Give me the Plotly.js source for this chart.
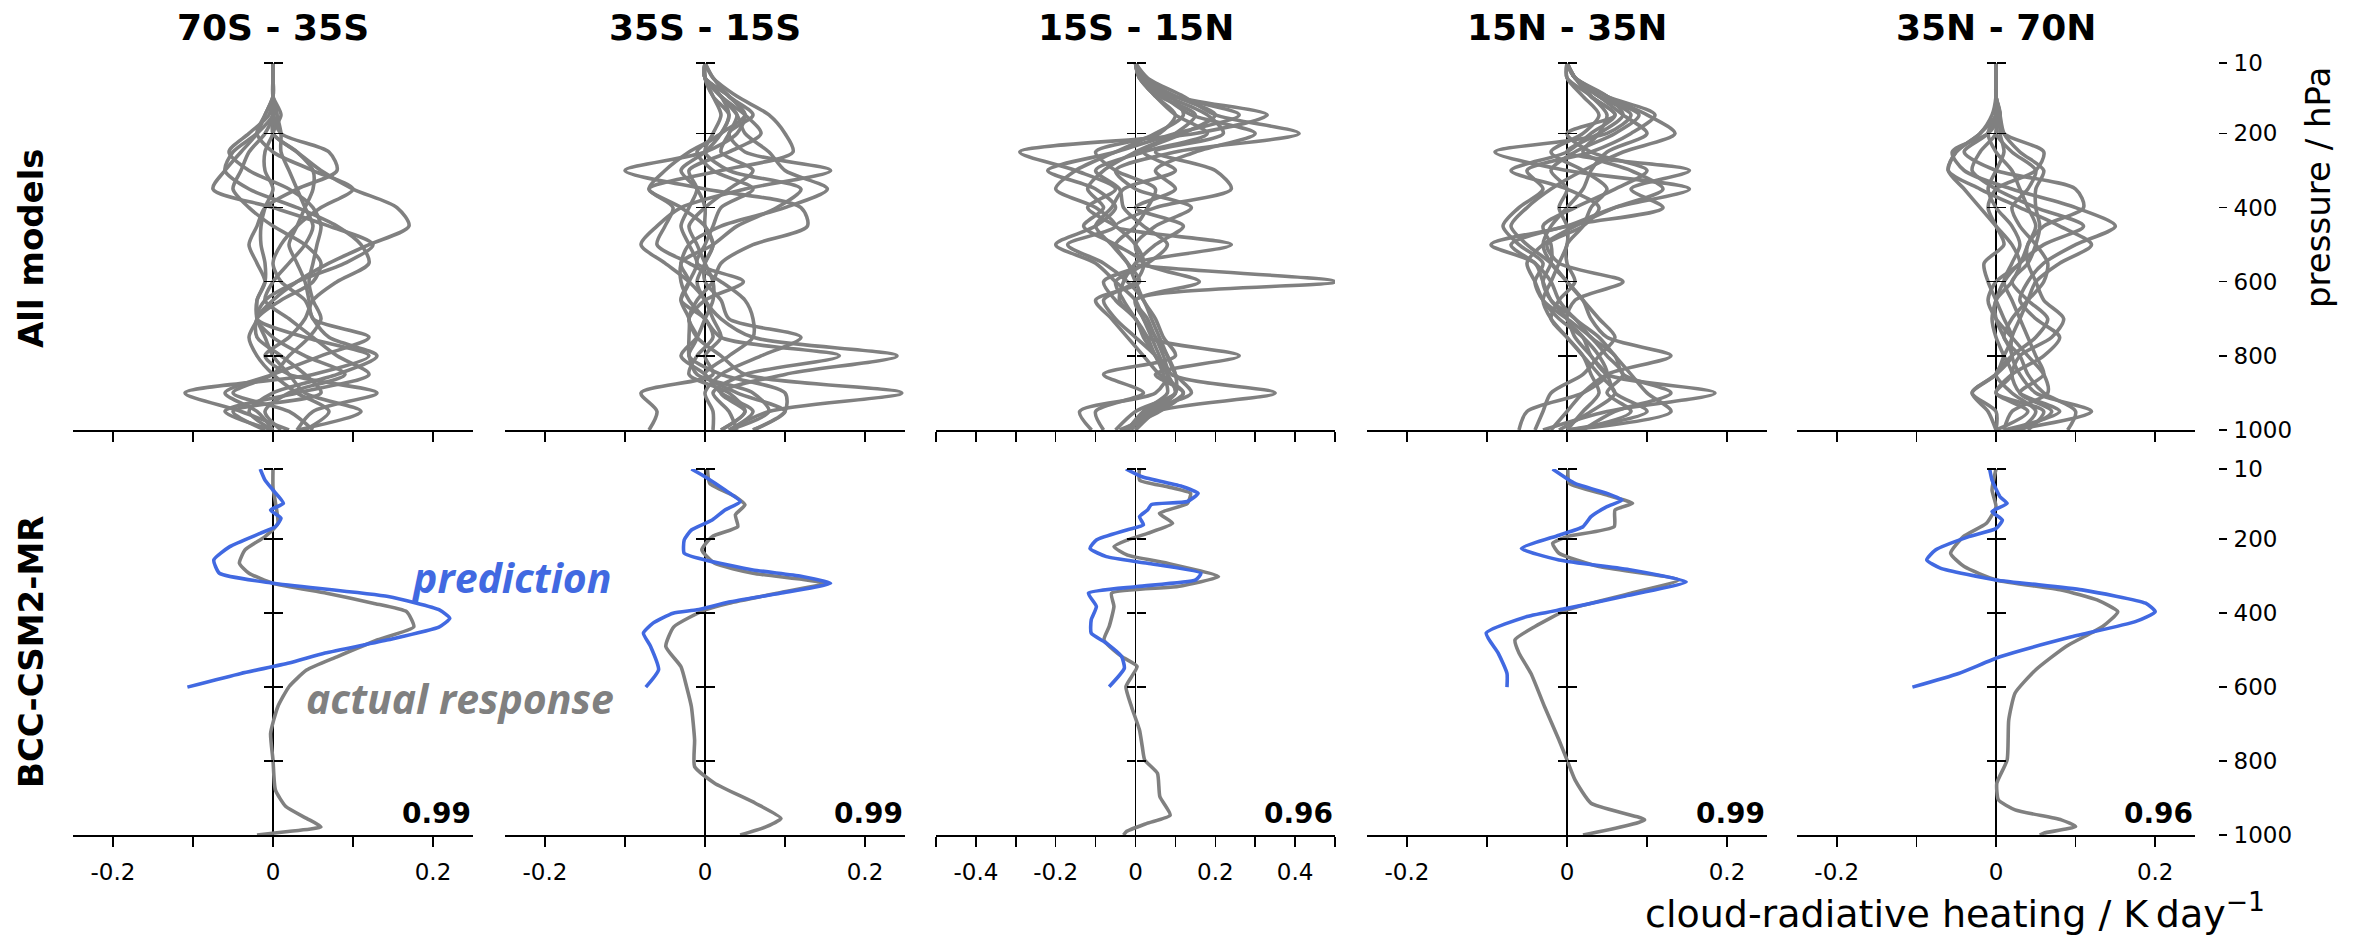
<!DOCTYPE html>
<html><head><meta charset="utf-8">
<script src="https://cdn.plot.ly/plotly-3.0.1.min.js"></script>
<style>html,body{margin:0;padding:0;background:#fff}#chart{width:2364px;height:936px}</style>
</head><body><div id="chart"></div>
<script>
// ---------------- data ----------------
const regions = ['70S - 35S', '35S - 15S', '15S - 15N', '15N - 35N', '35N - 70N'];
const rowLabels = ['All models', 'BCC-CSM2-MR'];
const correlations = ['0.99', '0.99', '0.96', '0.99', '0.96'];
const pressureTicks = [10, 200, 400, 600, 800, 1000];
const xTickVals = [-0.2, -0.1, 0, 0.1, 0.2];
const xTickText = ['-0.2', '', '0', '', '0.2'];
const xTickValsWide = [-0.5, -0.4, -0.3, -0.2, -0.1, 0, 0.1, 0.2, 0.3, 0.4, 0.5];
const xTickTextWide = ['', '-0.4', '', '-0.2', '', '0', '', '0.2', '', '0.4', ''];

// pressure levels (hPa) of the all-model profiles
const pressureLevels = [10,50,100,150,200,250,300,350,400,450,500,550,600,650,700,750,800,850,900,950,1000];

// all-model profiles, cloud-radiative heating response (K/day)
const allModels_70S35S = [
  [0,0,0,0,0,0.03,0.06,0.1,0.155,0.17,0.12,0.07,0.03,0,-0.02,0,0.04,0.09,0.02,-0.01,0.01],
  [0,0,0,-0.01,-0.02,-0.04,-0.06,-0.075,0,0.07,0.125,0.09,0.03,-0.01,-0.02,0.04,0.12,0.05,-0.11,-0.04,0.02],
  [0,0,0,0,0.01,0.07,0.08,0.03,-0.01,-0.02,-0.03,-0.02,-0.01,-0.02,-0.02,-0.03,-0.02,0,0.03,0.07,0.04],
  [0,0,0,-0.01,-0.02,0,0.05,0.1,0.06,0.03,0.01,0,0.01,0.04,0.05,0.07,0.13,0.08,0,-0.03,0],
  [0,0,0,0,-0.02,-0.05,-0.06,-0.03,0.03,0.08,0.11,0.12,0.08,0.05,0.04,0.02,-0.01,0.02,0.13,0.05,0.03],
  [0,0,0,-0.005,-0.03,-0.055,-0.03,0.02,0.05,0.06,0.055,0.05,0.045,0.05,0.06,0.045,0.02,0,-0.05,0.02,0.05],
  [0,0,0,0.005,0,-0.01,-0.01,0,-0.01,-0.015,-0.015,-0.01,-0.01,-0.02,-0.02,-0.01,0,0.02,0.04,0.11,0.03],
  [0,0,0,0.01,0,0.03,0.05,0.05,0.04,0.03,0.02,0.03,0.04,0.045,0.05,0.12,0.06,0,-0.06,-0.02,0],
  [0,0,0,0,-0.01,-0.03,-0.04,-0.05,-0.03,0,0.04,0.06,0.05,0.01,-0.02,-0.02,0.01,0.04,0.06,-0.05,-0.01],
  [0,0,0,0.005,0.01,0.01,0.02,0.03,0.04,0.05,0.04,0.02,0,-0.01,0.02,0.05,0.08,0.12,0.03,-0.06,0]
];
const allModels_35S15S = [
  [0,0.01,0.04,0.08,0.1,0.11,0.02,-0.07,-0.03,0,0.01,0,-0.01,0,0.02,0.06,0.24,0.1,0.02,0.05,0.02],
  [0,0,0.03,0.05,0.04,0,-0.1,0,0.12,0.128,0.06,0.02,0.01,-0.01,-0.02,-0.01,0.02,0.05,0.246,0.08,0.03],
  [0,0.01,0.03,0.06,0.03,0.05,0.157,0.05,-0.03,-0.06,-0.08,-0.05,-0.02,0,0.01,0.02,0,0.01,-0.08,-0.06,-0.07],
  [0,0,0.02,0.04,0.05,0.08,0.1,0.153,0.1,0.02,-0.02,-0.03,-0.03,-0.02,0,0.02,0.168,0.05,0.01,0.03,0.04],
  [0,0,0.02,0.03,0.02,-0.02,-0.05,-0.07,-0.04,-0.05,-0.06,-0.02,0.02,0.05,0.06,0.06,0.03,0,0.04,0.1,0.06],
  [0,0,0.03,0.05,0.02,-0.01,0.01,0.06,0.02,0.01,0,-0.01,0.048,0,-0.02,-0.01,-0.02,0.02,0.1,0.1,0.06],
  [0,0,0.01,0.02,0.01,0,0.03,0.12,0.09,0.04,0.01,-0.03,-0.02,-0.03,-0.02,-0.02,-0.02,-0.01,0.06,0.08,0.03],
  [0,0,0.02,0.05,0.07,0.03,-0.02,-0.01,-0.02,-0.03,-0.02,-0.01,-0.02,-0.03,0,0.01,-0.01,-0.02,0.03,0.05,0.02],
  [0,0,0.01,0.03,0.02,0,-0.03,-0.01,0,0,0.01,0,0,0.02,0.03,0.12,0.07,0.02,0,0.01,0.01],
  [0,0,0.02,0.04,0.03,0.02,0.06,0.03,0,-0.02,-0.01,0,0.01,0.01,0,-0.01,-0.03,0,0.02,0.06,0.03]
];
const allModels_15S15N = [
  [0,0.02,0.1,0.26,0.1,-0.05,-0.22,-0.1,-0.05,-0.1,-0.2,-0.1,-0.05,0,0.02,0.05,0.07,0.09,0.35,0.05,-0.02],
  [0,0.03,0.12,0.2,0.41,0.1,-0.05,0,0.14,0.05,0,0.02,0.16,0,0.03,0.05,0.08,0.1,0.1,0,-0.05],
  [0,0.02,0.1,0.33,0.15,-0.29,-0.15,-0.05,-0.12,-0.05,0,0.02,-0.05,-0.03,0,0.03,0.26,0.05,0.12,0.05,0],
  [0,0.01,0.08,0.18,0.22,0.05,0.2,0.24,0.05,-0.05,0.24,0,0.5,0,0.02,0.04,0.06,0.08,0.1,0.02,-0.02],
  [0,0.01,0.06,0.15,0.1,0,-0.08,-0.12,-0.08,-0.13,-0.05,0.02,0,-0.08,-0.05,0,0.05,0.08,0.05,-0.14,-0.11],
  [0,0.02,0.09,0.12,0.05,-0.05,-0.15,-0.2,-0.1,-0.05,-0.17,-0.08,-0.02,0.02,0.04,0.06,0.08,0.1,0.14,0.03,0],
  [0,0.01,0.07,0.14,0.3,0.15,0.05,0.1,0,0.12,0.05,0,-0.03,-0.04,0,0.03,0.05,0.08,0.1,0.04,-0.03],
  [0,0.02,0.1,0.2,0.12,0.02,0.1,-0.03,-0.06,-0.1,-0.06,-0.02,0.01,-0.1,-0.06,-0.02,0.02,0.06,0.12,0.06,-0.04],
  [0,0.01,0.05,0.1,0.06,-0.1,-0.05,0.05,0.03,0,-0.05,-0.02,0,0.02,0.05,0.07,0.1,-0.08,0.02,-0.1,-0.08],
  [0,0.01,0.05,0.1,0.18,0.02,-0.1,-0.04,-0.03,0.02,0.08,0.03,-0.08,-0.05,0,0.02,0.05,0.07,0.08,0.02,-0.01]
];
const allModels_15N35N = [
  [0,0.01,0.05,0.1,0.135,0.07,0.02,-0.02,-0.05,-0.07,-0.05,-0.02,0,0.02,0.03,0.05,0.13,0.05,0.02,0,-0.02],
  [0,0.01,0.04,0.08,0.05,-0.09,0,0.153,0.06,0,-0.095,-0.04,-0.03,-0.02,0,0.01,0.03,0.05,0.185,0.05,-0.03],
  [0,0.01,0.05,0.07,0.04,0,0.153,0.08,0.12,0,-0.07,-0.04,-0.02,-0.01,0.01,0.04,0.06,0.08,0.1,0.13,0],
  [0,0.01,0.03,0.06,0.03,0,-0.07,0,0.04,0.02,-0.025,-0.01,0.07,0.01,0,0.02,0.03,0.05,0.06,0.1,0],
  [0,0,0.03,0.05,0.04,0.02,0.08,0.12,0.06,0.01,-0.03,-0.05,-0.04,-0.03,-0.01,0.02,0.04,0.05,0.02,-0.05,-0.06],
  [0,0.01,0.04,0.09,0.06,0.01,-0.02,0,-0.01,0,0,-0.01,-0.02,-0.03,-0.02,0,0.02,0.04,0.06,0.03,-0.01],
  [0,0.01,0.05,0.11,0.08,0.03,-0.05,-0.03,-0.06,-0.08,-0.06,-0.03,-0.04,-0.03,0,0.03,0.05,0.07,0.05,0.08,0.01],
  [0,0,0.02,0.04,0.02,-0.02,0.02,0.05,0.03,0.02,0,0,0.01,-0.01,-0.02,0,0.02,0.03,0.04,0.02,0],
  [0,0.01,0.04,0.07,0.1,0.05,0.03,0.02,0,-0.02,-0.03,-0.02,0,0.02,0.04,0.06,0.04,0.02,-0.02,-0.03,-0.04],
  [0,0.01,0.03,0.06,0,0.03,0.1,0.06,0.01,-0.03,-0.02,-0.02,-0.03,-0.02,0.01,0.03,0.06,0.07,0.13,0.06,0.02]
];
const allModels_35N70N = [
  [0,0,0,0,-0.02,-0.05,-0.06,-0.02,0.03,0.08,0.12,0.08,0.05,0.04,0.03,0.02,0.02,0.03,0.05,0.12,0.02],
  [0,0,0,0.005,-0.01,-0.055,-0.04,0.02,0.1,0.15,0.1,0.06,0.04,0.03,0.05,0.08,0.06,0.02,0,0.06,0.04],
  [0,0,0,0,0.01,0.06,0.05,0,-0.01,0,0.01,-0.015,-0.01,0,0.01,0.02,0.01,0,-0.03,0,0],
  [0,0,0,0,-0.01,-0.04,0,0.1,0.11,0.06,0.04,0.04,0.05,0.06,0.085,0.07,0.03,0.02,0.03,0.08,0.01],
  [0,0,0,0.005,0,0.02,0.05,0.04,0.02,0.03,0.05,0.065,0.06,0.04,0.02,0.01,0.03,0.04,0.06,0.1,0.09],
  [0,0,0,-0.005,-0.02,-0.05,-0.06,-0.04,-0.02,0,0.02,0.03,0.02,0,0,0.01,0.02,0,-0.03,-0.01,0],
  [0,0,0,0.005,0.01,0.03,0.06,0.05,0.05,0.055,0.05,0.04,0.02,0.04,0.065,0.05,0.02,0,0.02,0.05,0.03],
  [0,0,0,0,-0.01,0,0.02,0.03,0.04,0.05,0.04,0.03,0,-0.01,0,0.02,0.04,0.06,0.065,0.02,0.01],
  [0,0,0,0,0,-0.02,-0.03,0,0.05,0.11,0.06,0.03,0.01,0,-0.005,0,0.01,0.02,0,0.04,0],
  [0,0,0,0.005,0.005,0.01,0,-0.01,0,0.02,0.03,0.02,0.01,0.02,0.03,0.04,0.05,0.06,0.03,0.07,0.03]
];

// BCC-CSM2-MR: actual response (gray) and prediction (blue)
const actualP_70S35S = [10,60,100,157,193,229,265,292,319,346,373,396,437,472,518,554,599,653,725,797,878,923,955,978,991,1000];
const actualX_70S35S = [0,0,0.003,0.006,-0.01,-0.035,-0.042,-0.03,0,0.067,0.125,0.167,0.176,0.131,0.08,0.042,0.02,0.006,-0.003,0,0.003,0.016,0.042,0.06,0.016,-0.02];
const predP_70S35S = [10,40,67,103,121,143,166,184,220,256,292,319,355,391,414,437,472,508,535,563,600];
const predX_70S35S = [-0.016,-0.01,0,0.013,-0.003,0.01,0.003,-0.016,-0.054,-0.074,-0.067,0,0.144,0.208,0.221,0.208,0.144,0.065,0.02,-0.04,-0.107];

const actualP_35S15S = [10,49,85,107,134,166,193,229,265,292,319,346,373,391,437,490,545,599,653,743,815,860,914,955,978,1000];
const actualX_35S15S = [0.003,0.006,0.038,0.05,0.038,0.041,0.009,-0.004,0.012,0.06,0.15,0.09,0.03,0,-0.039,-0.049,-0.03,-0.023,-0.017,-0.013,-0.013,0.012,0.063,0.095,0.076,0.044];
const predP_35S15S = [10,31,67,98,121,148,175,202,238,256,283,300,319,346,370,391,400,427,454,490,553,600];
const predX_35S15S = [-0.017,0,0.025,0.044,0.025,0.009,-0.017,-0.026,-0.026,0,0.06,0.12,0.157,0.094,0.03,-0.01,-0.04,-0.065,-0.077,-0.068,-0.058,-0.074];

const actualP_15S15N = [10,40,58,76,103,130,157,184,202,220,243,265,301,328,346,382,436,472,517,544,572,599,653,716,761,797,833,896,946,968,990,1000];
const actualX_15S15N = [0.01,0.01,0.08,0.138,0.13,0.06,0.093,0.03,-0.02,-0.054,-0.02,0.08,0.208,0.106,-0.06,-0.054,-0.066,-0.079,-0.035,0.004,-0.01,-0.024,-0.01,0.01,0.017,0.023,0.055,0.061,0.087,0.03,-0.022,-0.03];
const predP_15S15N = [10,31,58,76,98,106,121,139,161,175,202,225,247,265,292,310,328,346,382,418,454,481,517,549,599];
const predX_15S15N = [-0.024,0.016,0.119,0.157,0.13,0.04,0.03,0.01,0.02,-0.022,-0.098,-0.114,-0.073,0.03,0.164,0.151,0.004,-0.118,-0.098,-0.111,-0.111,-0.073,-0.035,-0.028,-0.066];

const actualP_15N35N = [10,49,80,103,121,166,193,211,238,274,310,346,391,436,472,508,563,653,743,797,851,914,959,1000];
const actualX_15N35N = [0.001,0.003,0.049,0.082,0.06,0.059,0,-0.018,-0.01,0.04,0.14,0.08,0,-0.04,-0.065,-0.06,-0.045,-0.028,-0.01,0,0.01,0.03,0.097,0.02];
const predP_15N35N = [10,49,76,94,112,139,166,189,225,256,283,315,355,387,409,454,508,563,600];
const predX_15N35N = [-0.018,0.01,0.05,0.069,0.05,0.03,0.02,-0.01,-0.057,-0.01,0.08,0.149,0.07,0,-0.05,-0.101,-0.086,-0.075,-0.075];

const actualP_35N70N = [10,67,112,157,193,238,274,310,337,364,396,436,490,553,616,689,797,860,905,932,959,977,995,1000];
const actualX_35N70N = [0,-0.005,0,-0.012,-0.041,-0.057,-0.04,0,0.082,0.127,0.153,0.134,0.088,0.05,0.024,0.016,0.014,0.001,0.003,0.024,0.082,0.1,0.06,0.055];
const predP_35N70N = [10,40,85,103,125,148,171,193,229,256,278,310,337,373,396,423,464,518,563,600];
const predX_35N70N = [-0.008,-0.005,0.005,0.014,-0.005,0.008,0,-0.034,-0.076,-0.087,-0.07,0,0.108,0.188,0.2,0.175,0.095,0.005,-0.047,-0.105];

const allModels = [allModels_70S35S, allModels_35S15S, allModels_15S15N, allModels_15N35N, allModels_35N70N];
const actualP = [actualP_70S35S, actualP_35S15S, actualP_15S15N, actualP_15N35N, actualP_35N70N];
const actualX = [actualX_70S35S, actualX_35S15S, actualX_15S15N, actualX_15N35N, actualX_35N70N];
const predP = [predP_70S35S, predP_35S15S, predP_15S15N, predP_15N35N, predP_35N70N];
const predX = [predX_70S35S, predX_35S15S, predX_15S15N, predX_15N35N, predX_35N70N];
const xHalfRange = [0.25, 0.25, 0.5, 0.25, 0.25];

// ---------------- layout helpers ----------------
const W = 2364, H = 936;
const colPx = [[73,473],[505,905],[936,1335],[1367,1767],[1797,2195]];
const rowPx = [[63,430],[469,835]];
const fx = p => p / W;
const fy = p => 1 - p / H;
const GRAY = '#808080', BLUE = '#4169E1';
const FONT = 'DejaVu Sans';
const TICK_SIZE = 23;

const traces = [];
const layout = {
  width: W, height: H,
  margin: {l: 0, r: 0, t: 0, b: 0},
  paper_bgcolor: '#fff', plot_bgcolor: 'rgba(0,0,0,0)',
  showlegend: false, hovermode: false,
  font: {family: FONT, color: '#000', size: TICK_SIZE},
  annotations: []
};

function axName(n) { return n === 1 ? '' : String(n); }

for (let r = 0; r < 2; r++) {
  for (let c = 0; c < 5; c++) {
    const n = r * 5 + c + 1;
    const xa = 'x' + axName(n), ya = 'y' + axName(n);
    const yb = 'y' + (10 + n);
    const h = xHalfRange[c];
    const wide = c === 2;
    const zeroPos = fx((colPx[c][0] + colPx[c][1]) / 2);
    layout['xaxis' + axName(n)] = {
      domain: [fx(colPx[c][0]), fx(colPx[c][1])], anchor: ya,
      range: [-h, h], showgrid: false,
      zeroline: true, zerolinecolor: '#000', zerolinewidth: 1.2,
      showline: true, linecolor: '#000', linewidth: 1.6,
      ticks: 'outside', ticklen: 10, tickwidth: 1.5, tickcolor: '#000',
      tickvals: wide ? xTickValsWide : xTickVals,
      ticktext: wide ? xTickTextWide : xTickText,
      showticklabels: r === 1, ticklabelstandoff: 6,
      tickfont: {family: FONT, size: TICK_SIZE, color: '#000'}, fixedrange: true
    };
    const yCommon = {
      domain: [fy(rowPx[r][1]), fy(rowPx[r][0])],
      range: [1000, 10], anchor: 'free', position: zeroPos,
      showgrid: false, zeroline: false, showline: false,
      ticks: 'outside', ticklen: 9, tickwidth: 1.5, tickcolor: '#000',
      tickvals: pressureTicks.slice(0, 5), showticklabels: false, fixedrange: true
    };
    layout['yaxis' + axName(n)] = Object.assign({}, yCommon, {side: 'left'});
    layout['yaxis' + (10 + n)] = Object.assign({}, yCommon, {side: 'right', overlaying: ya});
    traces.push({x: [null], y: [null], xaxis: xa, yaxis: yb, type: 'scatter', mode: 'lines', hoverinfo: 'skip'});

    if (r === 0) {
      allModels[c].forEach(vals => {
        traces.push({
          x: vals, y: pressureLevels, xaxis: xa, yaxis: ya, type: 'scatter', mode: 'lines',
          line: {color: GRAY, width: 3.6, shape: 'spline', smoothing: 0.8}, hoverinfo: 'skip'
        });
      });
    } else {
      traces.push({
        x: actualX[c], y: actualP[c], xaxis: xa, yaxis: ya, type: 'scatter', mode: 'lines',
        line: {color: GRAY, width: 3.6, shape: 'spline', smoothing: 0.5}, hoverinfo: 'skip'
      });
      traces.push({
        x: predX[c], y: predP[c], xaxis: xa, yaxis: ya, type: 'scatter', mode: 'lines',
        line: {color: BLUE, width: 3.6, shape: 'spline', smoothing: 0.5}, hoverinfo: 'skip'
      });
      layout.annotations.push({
        xref: 'paper', yref: 'paper', x: fx(colPx[c][1]), y: fy(813),
        xanchor: 'right', yanchor: 'middle', showarrow: false, text: correlations[c],
        font: {family: FONT, size: 28, color: '#000', weight: 'bold'}
      });
    }
    if (r === 0) {
      layout.annotations.push({
        xref: 'paper', yref: 'paper', x: zeroPos, y: fy(27),
        xanchor: 'center', yanchor: 'middle', showarrow: false, text: regions[c],
        font: {family: FONT, size: 36, color: '#000', weight: 'bold'}
      });
    }
  }
}

// right-hand labelled pressure axes
[[5, 21], [10, 22]].forEach(([n, k]) => {
  const r = n === 5 ? 0 : 1;
  layout['yaxis' + k] = {
    domain: [fy(rowPx[r][1]), fy(rowPx[r][0])], range: [1000, 10],
    overlaying: 'y' + n, anchor: 'free', position: fx(2218), side: 'right',
    showgrid: false, zeroline: false, showline: false,
    ticks: 'outside', ticklen: 8, tickwidth: 1.5, tickcolor: '#000',
    tickvals: pressureTicks, showticklabels: true, ticklabelstandoff: 2,
    tickfont: {family: FONT, size: TICK_SIZE, color: '#000'}, fixedrange: true
  };
  traces.push({x: [null], y: [null], xaxis: 'x' + n, yaxis: 'y' + k, type: 'scatter', mode: 'lines', hoverinfo: 'skip'});
});

// row labels
[[rowLabels[0], 248], [rowLabels[1], 652]].forEach(([t, py]) => {
  layout.annotations.push({
    xref: 'paper', yref: 'paper', x: fx(31), y: fy(py), textangle: -90,
    xanchor: 'center', yanchor: 'middle', showarrow: false, text: t,
    font: {family: FONT, size: 34, color: '#000', weight: 'bold'}
  });
});

// axis titles
layout.annotations.push({
  xref: 'paper', yref: 'paper', x: fx(2318), y: fy(188), textangle: -90,
  xanchor: 'center', yanchor: 'middle', showarrow: false, text: 'pressure / hPa',
  font: {family: FONT, size: 34, color: '#000'}
});
layout.annotations.push({
  xref: 'paper', yref: 'paper', x: fx(1955), y: fy(911),
  xanchor: 'center', yanchor: 'middle', showarrow: false,
  text: 'cloud-radiative heating / K\u2009day<sup>\u22121</sup>',
  font: {family: FONT, size: 38, color: '#000'}
});

// in-panel labels
layout.annotations.push({
  xref: 'paper', yref: 'paper', x: fx(614), y: fy(577),
  xanchor: 'right', yanchor: 'middle', showarrow: false, text: 'prediction',
  font: {family: 'Open Sans', size: 41, color: BLUE, weight: 'bold', style: 'italic'}
});
layout.annotations.push({
  xref: 'paper', yref: 'paper', x: fx(616), y: fy(698),
  xanchor: 'right', yanchor: 'middle', showarrow: false, text: 'actual response',
  font: {family: 'Open Sans', size: 41, color: GRAY, weight: 'bold', style: 'italic'}
});

Plotly.newPlot('chart', traces, layout, {staticPlot: true, displayModeBar: false});
</script>
</body></html>
